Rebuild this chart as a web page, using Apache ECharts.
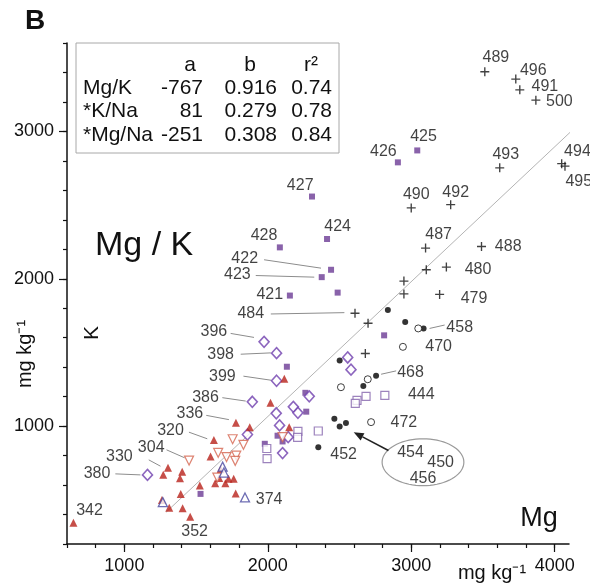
<!DOCTYPE html>
<html>
<head>
<meta charset="utf-8">
<script src="https://cdn.jsdelivr.net/npm/echarts@6/dist/echarts.min.js"></script>
<style>
  html, body { margin: 0; padding: 0; background: #fff; }
  #chart { width: 590px; height: 587px; }
</style>
</head>
<body>
<div id="chart"></div>
<script>
// values: [Mg, K] in mg/kg
const redTriangles = [[2115,1322],[2019,1158],[1778,1023],[1874,993],[2149,993],[1624,906],[1601,794],[1304,717],[1271,670],[1403,691],[1388,647],[1671,707],[1661,648],[1633,612],[1704,612],[1726,642],[1762,642],[1526,597],[1393,540],[1776,542],[1262,499],[1313,446],[1406,443],[1459,385],[645,344]];
const openDownTriangles = [[1755,911],[1830,873],[1451,766],[1654,819],[1712,790],[1780,800],[1773,764],[1648,651],[2103,925]];
const openDiamonds = [[1974,1572],[2061,1495],[2061,1308],[1892,1165],[2557,1466],[2580,1383],[2178,1131],[2210,1090],[2289,1202],[2059,1087],[2082,1005],[2142,925],[2103,817],[1858,943],[1161,669]];
const filledSquares = [[3042,2871],[2907,2790],[2308,2558],[2413,2270],[2084,2213],[2441,2061],[2376,2011],[2154,1886],[2487,1906],[2811,1616],[2133,1403],[2262,1226],[2268,1098],[2068,935],[2103,896],[1979,880],[1531,540]];
const openSquares = [[2685,1202],[2816,1209],[2622,1175],[2610,1155],[2210,964],[2208,923],[2352,967],[1993,848],[1995,780]];
const openUpTriangles = [[1685,725],[1694,685],[1841,516],[1268,484]];
const plusPoints = [[3513,3405],[3729,3355],[3757,3282],[3869,3212],[3617,2753],[4049,2781],[4072,2764],[3000,2481],[3275,2503],[3100,2208],[3490,2219],[3105,2061],[3245,2079],[2949,1984],[2949,1897],[3198,1894],[2608,1766],[2699,1698],[2680,1493]];
const filledCircles = [[2837,1788],[2958,1706],[3086,1663],[2501,1445],[2755,1341],[2666,1272],[2464,1050],[2501,998],[2545,1022],[2352,857]];
const openCircles = [[3049,1663],[2942,1538],[2697,1318],[2510,1264],[2720,1027]];

// fitted line Mg/K, ends as drawn
const regLine = [[1290,415],[4240,3115]];

// sample number labels: [text, Mg, K]
const pointLabels = [
  ['489',3590,3503],['496',3851,3416],['491',3932,3305],['500',4033,3200],
  ['425',3086,2962],['426',2806,2862],['493',3659,2844],['494',4159,2866],['495',4168,2662],
  ['427',2226,2635],['490',3035,2572],['492',3310,2587],['424',2487,2351],['487',3191,2299],
  ['488',3676,2215],['428',1974,2292],['422',1839,2140],['423',1788,2027],['421',2014,1890],
  ['484',1881,1761],['480',3466,2065],['479',3438,1868],['458',3338,1670],['470',3191,1538],
  ['468',2995,1364],['444',3070,1216],['472',2949,1023],['452',2529,807],
  ['454',2995,821],['450',3205,751],['456',3082,646],
  ['396',1624,1640],['398',1671,1482],['399',1683,1334],['386',1566,1193],['336',1457,1084],
  ['320',1322,971],['304',1187,857],['330',965,796],['380',809,680],['342',757,426],
  ['352',1490,285],['374',2009,499]
];
// leader lines: [Mg1, K1, Mg2, K2]
const leaderLines = [
  [1974,2129,2371,2072],[1916,2022,2324,2011],[2021,1761,2534,1770],[3128,1663,3233,1686],
  [2790,1352,2895,1375],[1741,1629,1904,1602],[1811,1488,2021,1497],[1830,1339,2026,1311],
  [1683,1193,1846,1170],[1571,1073,1729,1044],[1450,959,1578,914],[1294,839,1420,785],
  [1170,771,1252,728],[937,676,1112,669]
];
const groupEllipse = [[3082,755,285,159]];
const groupArrow = [[2841,834,2599,959]];

const xTicks = [600,800,1000,1200,1400,1600,1800,2000,2200,2400,2600,2800,3000,3200,3400,3600,3800,4000];
const xMajor = [1000,2000,3000,4000];
const yTicks = [200,400,600,800,1000,1200,1400,1600,1800,2000,2200,2400,2600,2800,3000,3200,3400,3600];
const yMajor = [1000,2000,3000];

const tableRows = ['Mg/K','*K/Na','*Mg/Na'];
const coefA = ['-767','81','-251'];
const coefB = ['0.916','0.279','0.308'];
const coefR2 = ['0.74','0.78','0.84'];

const FONT = "'Liberation Sans', Arial, sans-serif";
const PLUS = 'path://M0,3.4H3.4V0H4.6V3.4H8V4.6H4.6V8H3.4V4.6H0Z';

const chart = echarts.init(document.getElementById('chart'), null, { renderer: 'canvas' });

const gridBox = { left: 67, right: 21, top: 43, bottom: 43 };

function pts(list, opts) {
    return Object.assign({ type: 'scatter', data: list, z: 3 }, opts);
}

const tableGraphic = [{
    type: 'rect', shape: { x: 76, y: 43, width: 263, height: 110 },
    style: { fill: '#fff', stroke: '#a8a8a8', lineWidth: 1 }, z: 10
}];
const tStyle = (text, x, y, align) => ({
    type: 'text', x: x, y: y, z: 11,
    style: { text: text, fontSize: 21, fontFamily: FONT, fill: '#111', align: align, verticalAlign: 'middle' }
});
tableGraphic.push(tStyle('a', 190, 65, 'center'), tStyle('b', 250, 65, 'center'), tStyle('r²', 311, 65, 'center'));
tableRows.forEach((r, i) => {
    const y = 88 + i * 23.5;
    tableGraphic.push(tStyle(r, 83, y, 'left'), tStyle(coefA[i], 203, y, 'right'),
        tStyle(coefB[i], 277, y, 'right'), tStyle(coefR2[i], 332, y, 'right'));
});

const plain = v => String(v);

const option = {
    animation: false,
    textStyle: { fontFamily: FONT },
    grid: [gridBox, gridBox],
    xAxis: [{
        type: 'value', min: 600, max: 4100, gridIndex: 0,
        axisLine: { lineStyle: { color: '#111', width: 1.5 } },
        axisTick: { customValues: xTicks, length: 4, lineStyle: { color: '#111', width: 1.2 } },
        axisLabel: { customValues: xMajor, formatter: plain, fontSize: 18, color: '#111', margin: 13 },
        splitLine: { show: false }
    }, {
        type: 'value', min: 600, max: 4100, gridIndex: 1,
        axisLine: { show: false },
        axisTick: { customValues: xMajor, length: 8, lineStyle: { color: '#111', width: 1.2 } },
        axisLabel: { show: false }, splitLine: { show: false }
    }],
    yAxis: [{
        type: 'value', min: 200, max: 3600, gridIndex: 0,
        axisLine: { show: true, lineStyle: { color: '#111', width: 1.5 } },
        axisTick: { show: true, customValues: yTicks, length: 4, lineStyle: { color: '#111', width: 1.2 } },
        axisLabel: { customValues: yMajor, formatter: plain, fontSize: 18, color: '#111', margin: 13 },
        splitLine: { show: false }
    }, {
        type: 'value', min: 200, max: 3600, gridIndex: 1,
        axisLine: { show: false },
        axisTick: { show: true, customValues: yMajor, length: 8, lineStyle: { color: '#111', width: 1.2 } },
        axisLabel: { show: false }, splitLine: { show: false }
    }],
    graphic: tableGraphic.concat([
        { type: 'text', x: 35, y: 21, style: { text: 'B', fontSize: 28, fontWeight: 'bold', fontFamily: FONT, fill: '#111', align: 'center', verticalAlign: 'middle' } },
        { type: 'text', x: 95, y: 246, style: { text: 'Mg / K', fontSize: 34, fontFamily: FONT, fill: '#111', align: 'left', verticalAlign: 'middle' } },
        { type: 'text', x: 92, y: 333, rotation: Math.PI / 2, style: { text: 'K', fontSize: 21, fontFamily: FONT, fill: '#111', align: 'center', verticalAlign: 'middle' } },
        { type: 'text', x: 25, y: 354, rotation: Math.PI / 2, style: { text: 'mg kg⁻¹', fontSize: 20, fontFamily: FONT, fill: '#111', align: 'center', verticalAlign: 'middle' } },
        { type: 'text', x: 539, y: 519, style: { text: 'Mg', fontSize: 27, fontFamily: FONT, fill: '#111', align: 'center', verticalAlign: 'middle' } },
        { type: 'text', x: 492, y: 573, style: { text: 'mg kg⁻¹', fontSize: 20, fontFamily: FONT, fill: '#111', align: 'center', verticalAlign: 'middle' } }
    ]),
    series: [
        {
            type: 'line', data: regLine, showSymbol: false, clip: false, z: 1, silent: true,
            lineStyle: { color: '#b4b4b4', width: 1 }
        },
        {
            type: 'custom', data: leaderLines, clip: false, z: 1, silent: true,
            encode: { x: [0, 2], y: [1, 3] },
            renderItem: function (params, api) {
                const a = api.coord([api.value(0), api.value(1)]);
                const b = api.coord([api.value(2), api.value(3)]);
                return { type: 'line', shape: { x1: a[0], y1: a[1], x2: b[0], y2: b[1] },
                    style: { stroke: '#8c8c8c', lineWidth: 1 } };
            }
        },
        {
            type: 'custom', data: groupEllipse, clip: false, z: 1, silent: true,
            encode: { x: 0, y: 1 },
            renderItem: function (params, api) {
                const c = api.coord([api.value(0), api.value(1)]);
                const s = api.size([api.value(2), api.value(3)]);
                const points = [];
                for (let i = 0; i < 72; i++) {
                    const t = i / 72 * Math.PI * 2;
                    points.push([c[0] + s[0] * Math.cos(t), c[1] + s[1] * Math.sin(t)]);
                }
                return { type: 'polygon', shape: { points: points },
                    style: { fill: 'none', stroke: '#9a9a9a', lineWidth: 1.2 } };
            }
        },
        {
            type: 'custom', data: groupArrow, clip: false, z: 2, silent: true,
            encode: { x: [0, 2], y: [1, 3] },
            renderItem: function (params, api) {
                const a = api.coord([api.value(0), api.value(1)]);
                const b = api.coord([api.value(2), api.value(3)]);
                const ang = Math.atan2(b[1] - a[1], b[0] - a[0]);
                const L = 10, W = 4;
                const bx = b[0] - L * Math.cos(ang), by = b[1] - L * Math.sin(ang);
                const head = [
                    [b[0], b[1]],
                    [bx - W * Math.sin(ang), by + W * Math.cos(ang)],
                    [bx + W * Math.sin(ang), by - W * Math.cos(ang)]
                ];
                return { type: 'group', children: [
                    { type: 'line', shape: { x1: a[0], y1: a[1], x2: bx, y2: by }, style: { stroke: '#222', lineWidth: 1.6 } },
                    { type: 'polygon', shape: { points: head }, style: { fill: '#222' } }
                ] };
            }
        },
        pts(filledSquares, { symbol: 'rect', symbolSize: 6, itemStyle: { color: '#6b3b95' } }),
        pts(openSquares, { symbol: 'rect', symbolSize: 8, itemStyle: { color: '#fff', borderColor: '#8464ac', borderWidth: 1.2 } }),
        pts(openDiamonds, { symbol: 'diamond', symbolSize: [10, 11], itemStyle: { color: '#fff', borderColor: '#6f3fae', borderWidth: 1.6 } }),
        pts(redTriangles, { symbol: 'triangle', symbolSize: 8, itemStyle: { color: '#b8221a' } }),
        pts(openDownTriangles, { symbol: 'triangle', symbolRotate: 180, symbolSize: 9, itemStyle: { color: '#fff', borderColor: '#d4644f', borderWidth: 1.2 } }),
        pts(openUpTriangles, { symbol: 'triangle', symbolSize: 9, itemStyle: { color: '#fff', borderColor: '#4a48a0', borderWidth: 1.3 } }),
        pts(plusPoints, { symbol: PLUS, symbolSize: 9, itemStyle: { color: '#111' } }),
        pts(filledCircles, { symbol: 'circle', symbolSize: 6, itemStyle: { color: '#000' } }),
        pts(openCircles, { symbol: 'circle', symbolSize: 7, itemStyle: { color: '#fff', borderColor: '#111', borderWidth: 1 } }),
        {
            type: 'scatter', clip: false, z: 5, silent: true,
            symbolSize: 1, itemStyle: { color: 'transparent' },
            data: pointLabels.map(d => ({ name: d[0], value: [d[1], d[2]] })),
            label: { show: true, position: 'inside', formatter: '{b}', fontSize: 16, color: '#111', fontFamily: FONT }
        }
    ]
};

chart.setOption(option);
</script>
</body>
</html>
